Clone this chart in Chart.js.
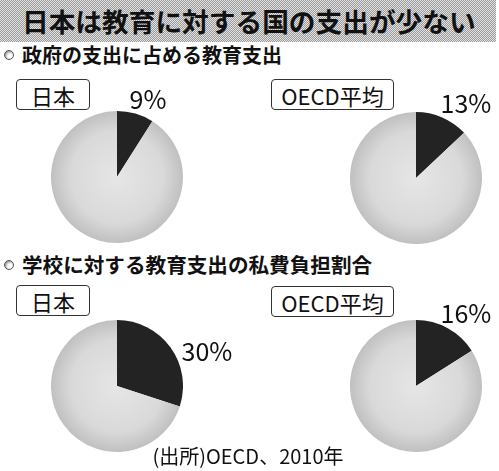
<!DOCTYPE html>
<html>
<head>
<meta charset="utf-8">
<script src="https://cdn.jsdelivr.net/npm/chart.js@4"></script>
<style>
  body { margin: 0; background: #fff; }
  #wrap {
    position: relative; width: 499px; height: 471px; overflow: hidden;
    font-family: "Noto Sans CJK JP", "Noto Sans", sans-serif; color: #111;
  }
  .t { position: absolute; line-height: 1; white-space: nowrap; transform: translate(0, -50%); }
  .c { transform: translate(-50%, -50%); }
  #titleBar {
    position: absolute; left: 0; top: 0; width: 496px; height: 42px;
    background: repeating-conic-gradient(#9a9a9a 0 25%, #e2e2e2 0 50%) 0 0 / 2px 2px;
  }
  .box {
    position: absolute; border: 1px solid #333; border-radius: 4px; box-sizing: border-box;
    display: flex; align-items: center; justify-content: center; font-size: 22px; background: #fff;
  }
  .bullet {
    position: absolute; width: 8px; height: 8px; border-radius: 50%;
    border: 1px solid #555; background: radial-gradient(circle at 65% 65%, #fff 30%, #888 80%);
  }
  canvas { position: absolute; }
</style>
</head>
<body>
<div id="wrap">
  <div id="titleBar"></div>
</div>
<script>
'use strict';

// **** Data ****
let titleText = '日本は教育に対する国の支出が少ない';
let groups = ['政府の支出に占める教育支出', '学校に対する教育支出の私費負担割合'];
let regions = ['日本', 'OECD平均'];
let govShare = [9, 13];       // % of government spending on education
let privateShare = [30, 16];  // % of school education spending paid privately
let sourceText = '(出所)OECD、2010年';

// **** Layout ****
let wrap = document.getElementById('wrap');

function addText(txt, x, y, size, weight, center){
  let d = document.createElement('div');
  d.className = center ? 't c' : 't';
  d.textContent = txt;
  d.style.left = x + 'px';
  d.style.top = y + 'px';
  d.style.fontSize = size + 'px';
  d.style.fontWeight = weight;
  wrap.appendChild(d);
  return d;
}

function addBox(txt, x, y, w, h){
  let d = document.createElement('div');
  d.className = 'box';
  d.textContent = txt;
  d.style.left = x + 'px';
  d.style.top = y + 'px';
  d.style.width = w + 'px';
  d.style.height = h + 'px';
  wrap.appendChild(d);
}

function addBullet(x, y){
  let d = document.createElement('div');
  d.className = 'bullet';
  d.style.left = x + 'px';
  d.style.top = y + 'px';
  wrap.appendChild(d);
}

// dark slice first, light shaded rest
function sliceFill(context){
  if(context.dataIndex === 0) return '#232323';
  let area = context.chart.chartArea;
  if(!area) return '#d6d6d6';
  let cx = (area.left + area.right) / 2;
  let cy = (area.top + area.bottom) / 2;
  let r = Math.min(area.right - area.left, area.bottom - area.top) / 2;
  let g = context.chart.ctx.createRadialGradient(cx, cy, 0, cx, cy, r);
  g.addColorStop(0, '#e6e6e6');
  g.addColorStop(0.7, '#d9d9d9');
  g.addColorStop(1, '#c0c0c0');
  return g;
}

function makePie(value, cx, cy, r){
  let c = document.createElement('canvas');
  let size = r * 2;
  c.width = size;
  c.height = size;
  c.style.left = (cx - r) + 'px';
  c.style.top = (cy - r) + 'px';
  wrap.appendChild(c);
  new Chart(c, {
    type: 'pie',
    data: {
      labels: ['share', 'rest'],
      datasets: [{
        data: [value, 100 - value],
        backgroundColor: sliceFill,
        borderWidth: 0
      }]
    },
    options: {
      responsive: false,
      animation: false,
      events: [],
      layout: { padding: 0 },
      plugins: { legend: { display: false }, tooltip: { enabled: false } }
    }
  });
}

// **** Executable Code ****

addText(titleText, 22, 21, 26.7, 700, false);

addBullet(4, 50);
addText(groups[0], 22, 55, 20, 700, false);
addBullet(4, 260);
addText(groups[1], 22, 264, 20.6, 700, false);

addBox(regions[0], 16, 79, 74, 31);
addBox(regions[1], 271, 79, 123, 31);
addBox(regions[0], 16, 285, 74, 31);
addBox(regions[1], 271, 286, 123, 31);

makePie(govShare[0], 117, 177, 66);
makePie(govShare[1], 416, 178, 66);
makePie(privateShare[0], 117, 386, 66);
makePie(privateShare[1], 416, 386, 66);

addText(govShare[0] + '%', 148, 98, 25, 400, true);
addText(govShare[1] + '%', 466, 102, 25, 400, true);
addText(privateShare[0] + '%', 207, 350, 25, 400, true);
addText(privateShare[1] + '%', 466, 312, 25, 400, true);

addText(sourceText, 248, 456, 20, 400, true);
</script>
</body>
</html>
